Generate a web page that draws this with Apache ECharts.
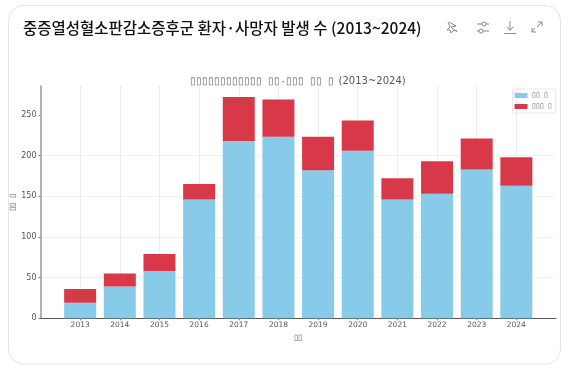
<!DOCTYPE html>
<html>
<head>
<meta charset="utf-8">
<style>html,body{margin:0;padding:0;background:#fff}#c{width:574px;height:373px}</style>
<script src="https://cdn.jsdelivr.net/npm/echarts@6/dist/echarts.min.js"></script>
</head>
<body>
<div id="c"></div>
<script>
const years = ['2013','2014','2015','2016','2017','2018','2019','2020','2021','2022','2023','2024'];
const patients = [19,39,58,146,218,223,182,206,146,153,183,163];
const deaths = [17,16,21,19,54,46,41,37,26,40,38,35];
const yTicks = [0,50,100,150,200,250];
const cardTitle = '중증열성혈소판감소증후군 환자·사망자 발생 수 (2013~2024)';
const plotTitleBoxes = '▯▯▯▯▯▯▯▯▯▯▯▯ ▯▯·▯▯▯ ▯▯ ▯';
const plotTitleYears = '(2013~2024)';
const patientName = '▯▯ ▯';
const deathName = '▯▯▯ ▯';
const yName = '▯▯ ▯';
const xName = '▯▯';

const chart = echarts.init(document.getElementById('c'), null, {renderer:'canvas'});
const inner = 'DejaVu Sans';
const box = 'Liberation Mono';
const stroke = {fill:'none', stroke:'#8a8a8a', lineWidth:1};
const pl = (points) => ({type:'polyline', shape:{points}, style:stroke, silent:true});
const ci = (cx, cy, r) => ({type:'circle', shape:{cx, cy, r}, style:{fill:'#fff', stroke:'#8a8a8a', lineWidth:1}, silent:true, z:101});
const isYear = (i, v) => years.includes(String(v));
chart.setOption({
  animation:false,
  backgroundColor:'#fff',
  title:[
    {text:cardTitle, left:23, top:20, padding:0,
     textStyle:{fontFamily:'Noto Sans CJK KR', fontSize:15.5, fontWeight:500, color:'#111'}},
    {text:'{b|'+plotTitleBoxes+'} {t|'+plotTitleYears+'}', left:298, textAlign:'center', top:72, padding:0,
     textStyle:{fontWeight:'normal', rich:{
       b:{fontFamily:box, fontSize:9.7, fontWeight:'normal', color:'#666'},
       t:{fontFamily:inner, fontSize:10, fontWeight:'normal', color:'#555'}}}}
  ],
  legend:{
    left:512.5, top:89, orient:'vertical', padding:[3,4,3,2], itemGap:4,
    itemWidth:13, itemHeight:5, borderColor:'#e8e8e8', borderWidth:1, borderRadius:1,
    icon:'rect', data:[patientName, deathName],
    textStyle:{fontFamily:box, fontSize:7, color:'#666', padding:[0,0,0,-1]}
  },
  grid:{left:40.5, right:18, top:86, bottom:54.7, containLabel:false, outerBoundsMode:'none'},
  xAxis:{
    type:'category', boundaryGap:false, data:['',...years,' '],
    name:xName, nameLocation:'middle', nameGap:16, nameMoveOverlap:false,
    nameTextStyle:{fontFamily:box, fontSize:8, color:'#666'},
    axisLine:{onZero:false, lineStyle:{color:'#555', width:1}},
    axisTick:{show:true, length:2, alignWithLabel:true, interval:isYear, lineStyle:{color:'#888'}},
    axisLabel:{fontFamily:inner, fontSize:7.5, color:'#555', margin:3, interval:isYear},
    splitLine:{show:true, interval:isYear, lineStyle:{color:'#ececec', width:1}}
  },
  yAxis:{
    type:'value', min:0, max:285.5, interval:50,
    name:yName, nameLocation:'middle', nameGap:23.5, nameRotate:90, nameMoveOverlap:false,
    nameTextStyle:{fontFamily:box, fontSize:8, color:'#666'},
    axisLine:{show:true, lineStyle:{color:'#999', width:1.5}},
    axisTick:{show:true, length:2, lineStyle:{color:'#888'}, customValues:yTicks},
    axisLabel:{fontFamily:inner, fontSize:8, color:'#555', margin:4, customValues:yTicks},
    splitLine:{show:true, showMaxLine:false, lineStyle:{color:'#f0f0f0', width:1}}
  },
  series:[
    {name:patientName, type:'bar', stack:'t', barWidth:32, data:years.map((y,i)=>[y,patients[i]]),
     itemStyle:{color:'#82C9E8', opacity:0.96}},
    {name:deathName, type:'bar', stack:'t', barWidth:32, data:years.map((y,i)=>[y,deaths[i]]),
     itemStyle:{color:'#D63142', opacity:0.96}}
  ],
  graphic:[
    {type:'rect', shape:{x:8.5,y:5.5,width:552,height:358.5,r:15}, style:{fill:'none',stroke:'#e4e4e4',lineWidth:1}, z:-1, silent:true},
    pl([[449,22],[456,26],[451,27],[457,32]]),
    pl([[448,22],[450,27],[447,30],[450,30],[451,33],[454,30],[457,31]]),
    pl([[477,24],[489,24]]), ci(484,24,2),
    pl([[477,31],[489,31]]), ci(481,31,2),
    pl([[510,21],[510,30]]), pl([[507,27],[510,30.5],[513,27]]), pl([[504,33.5],[516,33.5]]),
    pl([[537,27],[542,22]]), pl([[538,22],[542,22],[542,26]]),
    pl([[535,28],[532,32]]), pl([[532,28],[532,32],[536,32]])
  ]
});
</script>
</body>
</html>
